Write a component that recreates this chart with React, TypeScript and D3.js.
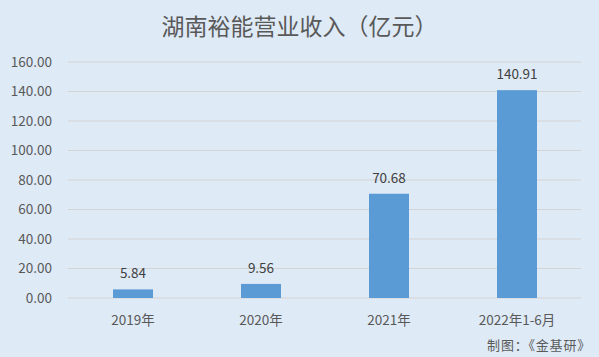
import React from "react";
import * as d3 from "d3";

const categories = ["2019年", "2020年", "2021年", "2022年1-6月"];
const revenue = [5.84, 9.56, 70.68, 140.91];
const yTicks = [0, 20, 40, 60, 80, 100, 120, 140, 160];
const title = "湖南裕能营业收入（亿元）";
const source = "制图：《金基研》";

const W = 599;
const H = 357;
const margin = { left: 69, right: 18, top: 62, bottom: 59 };
const font = "'Noto Sans CJK SC', 'Noto Sans', sans-serif";

export default function App() {
  const x = d3
    .scaleBand<string>()
    .domain(categories)
    .range([margin.left, W - margin.right])
    .paddingInner(0.6875)
    .paddingOuter(0.34375);
  const y = d3.scaleLinear().domain([0, 160]).range([H - margin.bottom, margin.top]);
  return (
    <svg width={W} height={H} style={{ position: "absolute", left: 0, top: 0 }}>
      <rect x={0} y={0} width={W} height={H} fill="#deeaf6" />
      <text x={W / 2} y={35} textAnchor="middle" fontFamily={font} fontSize={23} fill="#595959">
        {title}
      </text>
      {yTicks.map((t) => (
        <g key={t}>
          <line x1={68} x2={W - margin.right} y1={y(t)} y2={y(t)} stroke="#d3d3d3" strokeWidth={1} />
          <text x={52} y={y(t) + 4.5} textAnchor="end" fontFamily={font} fontSize={13.5} fill="#595959">
            {t.toFixed(2)}
          </text>
        </g>
      ))}
      {categories.map((c, i) => (
        <g key={c}>
          <rect x={x(c)} y={y(revenue[i])} width={x.bandwidth()} height={y(0) - y(revenue[i])} fill="#5b9bd5" />
          <text x={x(c)! + x.bandwidth() / 2} y={y(revenue[i]) - 11} textAnchor="middle" fontFamily={font} fontSize={13.5} fill="#404040">
            {revenue[i].toFixed(2)}
          </text>
          <text x={x(c)! + x.bandwidth() / 2} y={325} textAnchor="middle" fontFamily={font} fontSize={13.5} fill="#595959">
            {c}
          </text>
        </g>
      ))}
      <text x={591} y={350} textAnchor="end" fontFamily={font} fontSize={13} fill="#595959" letterSpacing={0.8}>
        {source}
      </text>
    </svg>
  );
}
